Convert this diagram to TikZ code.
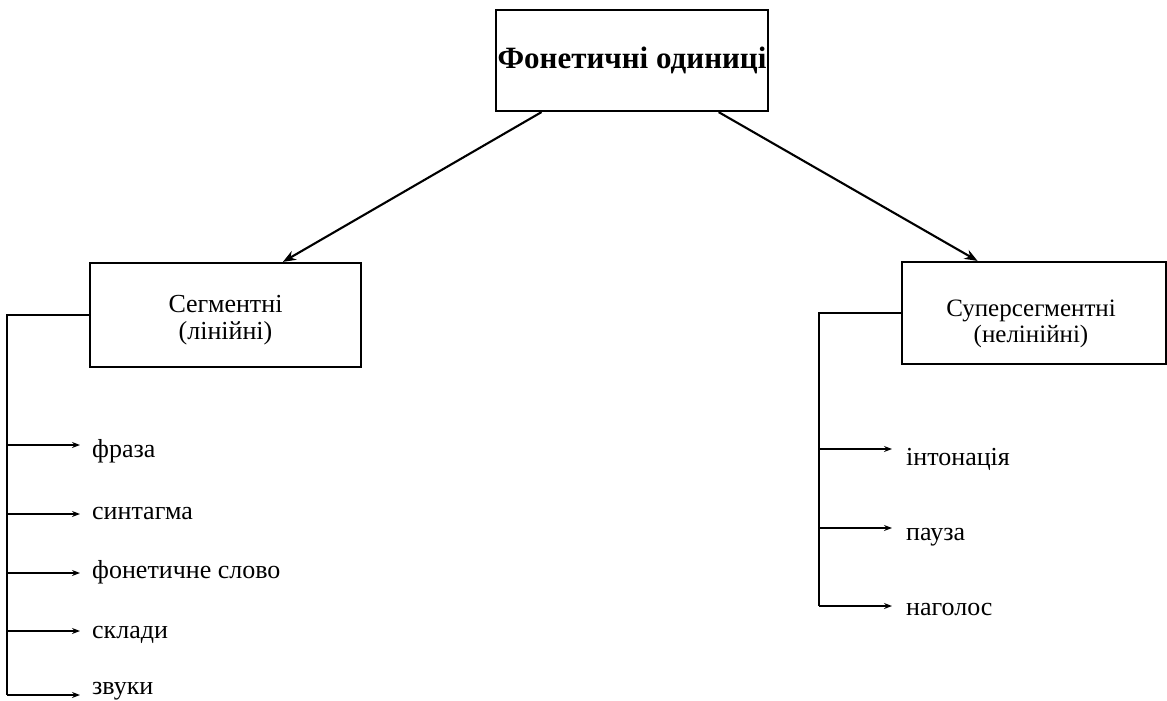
\documentclass[tikz,border=0pt]{standalone}
\usepackage{fontspec}
\setmainfont{Liberation Serif}
\usetikzlibrary{arrows.meta,calc}
\begin{document}
\begin{tikzpicture}[x=1pt,y=-1pt,
  box/.style={draw,line width=2.2pt,inner sep=0pt},
  boxtext/.style={inner sep=0pt,align=center,font=\fontsize{26}{26.5}\selectfont},
  item/.style={anchor=base west,inner sep=0pt,font=\fontsize{26}{27}\selectfont},
  link/.style={line width=2.1pt},
  mainarr/.style={line width=2.1pt,-{Stealth[length=13pt,width=10pt]}},
  subarr/.style={line width=2.1pt,-{Stealth[length=8pt,width=6pt]}}]
\useasboundingbox (0,0) rectangle (1167,701);

% top-level unit
\node[box,minimum width=272pt,minimum height=101pt,
  font=\fontsize{31}{34}\selectfont\bfseries] (top) at (632,60.5) {Фонетичні одиниці};

% the two classes: frames, then their captions
\node[box,minimum width=271pt,minimum height=104pt] (seg) at (225.5,315) {};
\node[box,minimum width=264pt,minimum height=102pt] (sup) at (1034,313) {};
\node[boxtext] (segt) at ([yshift=-5pt]seg.center) {Сегментні\\(лінійні)};
\node[boxtext,font=\fontsize{25}{25.5}\selectfont] (supt) at ([xshift=-3pt,yshift=-11pt]sup.center) {Суперсегментні\\(нелінійні)};

\draw[mainarr] ($(top.south west)!0.17!(top.south east)$) -- ($(seg.north west)!0.71!(seg.north east)$);
\draw[mainarr] ($(top.south west)!0.816!(top.south east)$) -- ($(sup.north west)!0.288!(sup.north east)$);

% segmental units (baselines) and the points their arrows reach
\node[item] (fr) at (92,457) {фраза};
\node[item] (sy) at (92,519) {синтагма};
\node[item] (fs) at (92,578) {фонетичне слово};
\node[item] (sk) at (92,638) {склади};
\node[item] (zv) at (92,694) {звуки};
\coordinate (frp) at (80,445);
\coordinate (syp) at (80,514);
\coordinate (fsp) at (80,573);
\coordinate (skp) at (80,631);
\coordinate (zvp) at (80,695);

\coordinate (lx) at (7,0);
\draw[link] (seg.west) -| (lx |- zvp);
\foreach \n in {fr,sy,fs,sk,zv}
  \draw[subarr] (lx |- \n p) -- (\n p);

% suprasegmental units
\node[item] (in) at (906,465) {інтонація};
\node[item] (pa) at (906,540) {пауза};
\node[item] (na) at (906,615) {наголос};
\coordinate (inp) at (892,449);
\coordinate (pap) at (892,528);
\coordinate (nap) at (892,606);

\coordinate (rx) at (819,0);
\draw[link] (sup.west) -| (rx |- nap);
\foreach \n in {in,pa,na}
  \draw[subarr] (rx |- \n p) -- (\n p);
\end{tikzpicture}
\end{document}
